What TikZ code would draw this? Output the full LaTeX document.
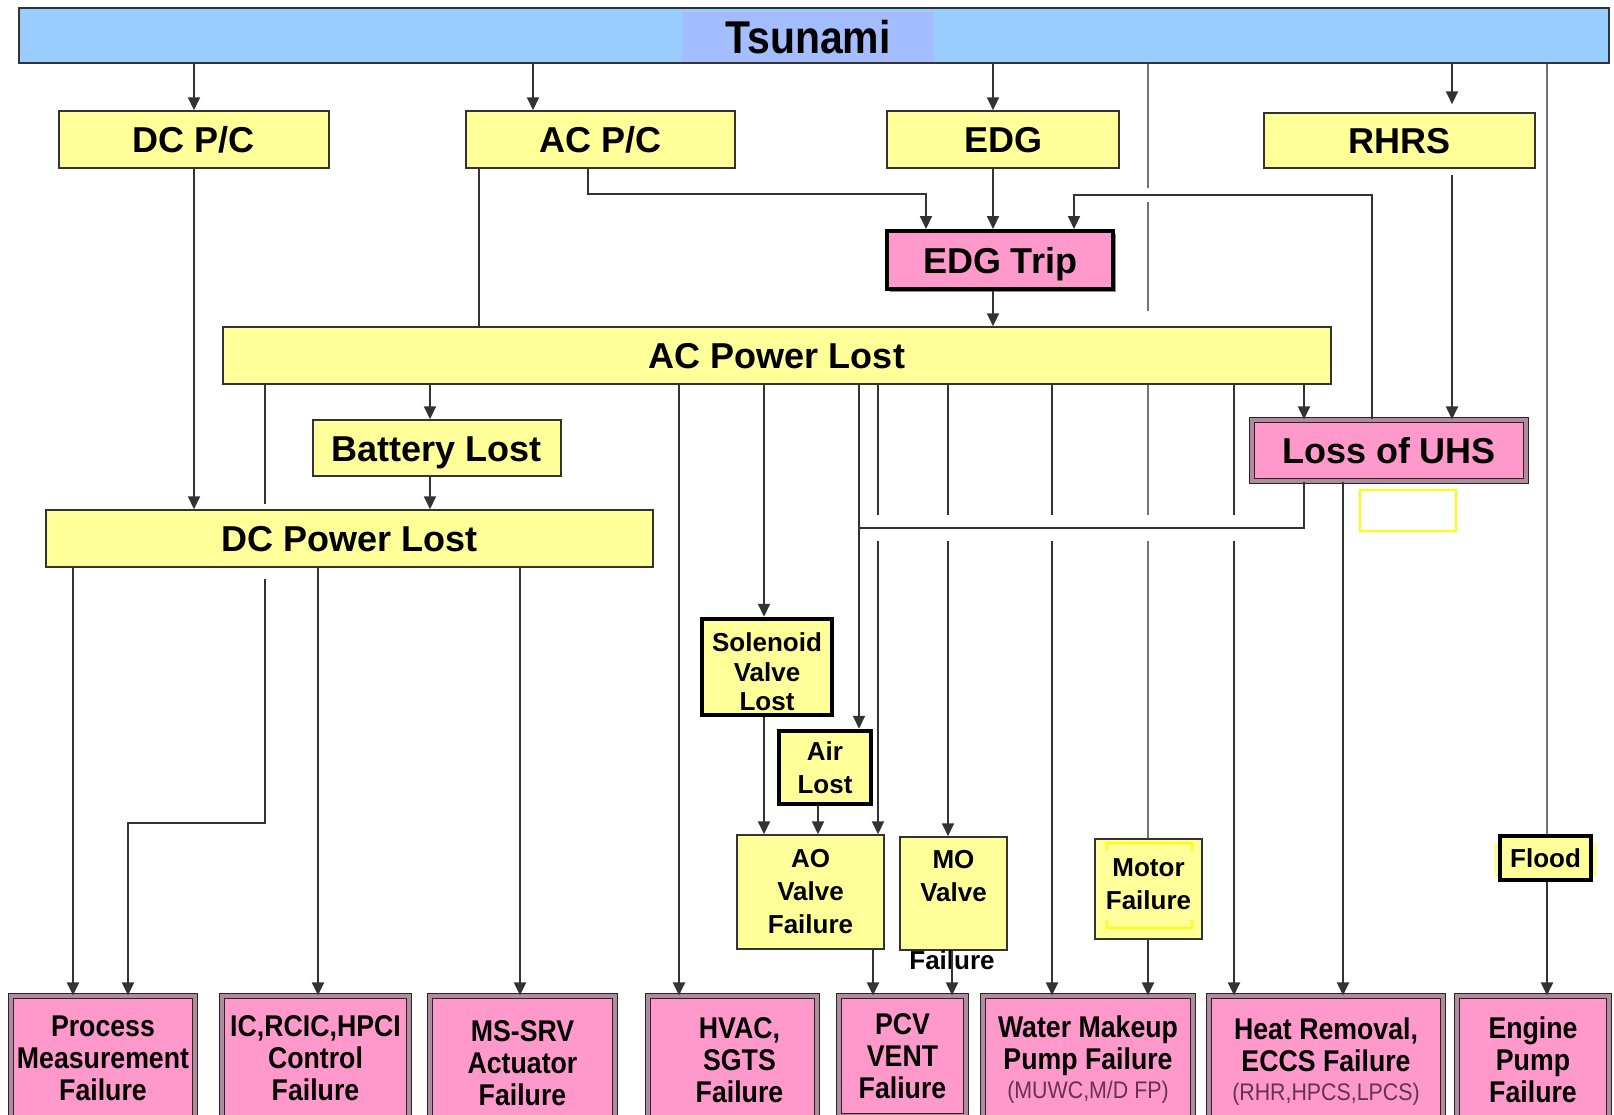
\documentclass[tikz,border=0pt]{standalone}
\usepackage{fontspec}
\setmainfont{Liberation Sans}
\newfontfamily\condfont[FakeStretch=0.89]{Liberation Sans}
\usetikzlibrary{arrows.meta,shadows}
\definecolor{pinkf}{HTML}{FF99CC}
\definecolor{yelf}{HTML}{FFFF99}
\definecolor{ybright}{HTML}{FFFF00}
\definecolor{bluef}{HTML}{99CCFF}
\definecolor{bluehl}{HTML}{A3BDFF}
\definecolor{subc}{HTML}{66334D}
\definecolor{brd}{HTML}{333333}
\begin{document}
\begin{tikzpicture}[x=1pt,y=-1pt,
 every node/.style={inner sep=0pt, align=center},
 ybox/.style={draw=brd, line width=1.5pt, fill=yelf},
 bigtxt/.style={font=\bfseries\fontsize{36}{40}\selectfont, text height=26pt, text depth=0pt},
 midtxt/.style={font=\bfseries\fontsize{26}{33}\selectfont},
 soltxt/.style={font=\bfseries\fontsize{26}{29.5}\selectfont},
 thickbox/.style={draw=black, line width=4.5pt, fill=yelf},
 pbox/.style={draw=black!85, line width=1.2pt, double=gray!60!pinkf, double distance=4pt, fill=pinkf},
 btxt/.style={font=\condfont\bfseries\fontsize{30}{32}\selectfont},
 arr/.style={draw=black!80, line width=2pt, -{Triangle[length=13pt,width=12pt]}},
 ln/.style={draw=black!80, line width=2pt},
 gln/.style={draw=black!55, line width=2.4pt},
]
\useasboundingbox (0,0) rectangle (1614,1114);
\clip (0,0) rectangle (1614,1114);
\fill[white] (0,0) rectangle (1614,1114);

% ---------- nodes ----------
\node[fill=bluef, draw=brd, line width=1.5pt, minimum width=1590pt, minimum height=55pt] (tsunami) at (814,35.5) {};
\node[fill=bluehl, minimum width=252pt, minimum height=50pt, font=\condfont\bfseries\fontsize{46}{50}\selectfont, text height=33pt, text depth=0pt] (tsulabel) at (808,37) {Tsunami};

\node[ybox,bigtxt,minimum width=270pt,minimum height=57pt] (dcpc) at (194,139.5) {DC P/C};
\node[ybox,bigtxt,minimum width=269pt,minimum height=57pt] (acpc) at (600.5,139.5) {AC P/C};
\node[ybox,bigtxt,minimum width=232pt,minimum height=57pt] (edg) at (1003,139.5) {EDG};
\node[ybox,bigtxt,minimum width=271pt,minimum height=55pt] (rhrs) at (1399.5,140.5) {RHRS};

\node[bigtxt, draw=black, line width=4pt, fill=pinkf,
      drop shadow={shadow xshift=3pt,shadow yshift=-3pt,fill=black!45,opacity=1},
      minimum width=226pt, minimum height=58pt] (edgtrip) at (1000,260) {EDG Trip};

\node[ybox,bigtxt,minimum width=1108pt,minimum height=57pt] (acpl) at (777,355.5) {AC Power Lost};
\node[ybox,bigtxt,minimum width=248pt,minimum height=56pt] (batt) at (437,448) {Battery Lost};
\node[ybox,bigtxt,minimum width=607pt,minimum height=57pt] (dcpl) at (349.5,538.5) {DC Power Lost};
\node[pbox,bigtxt,minimum width=274pt,minimum height=61pt] (uhs) at (1389,450.5) {Loss of UHS};
\draw[ybright, line width=2pt] (1360,490) rectangle (1456,531);

\node[thickbox, soltxt, minimum width=130pt, minimum height=96pt] (sol) at (767,667) {};
\node[soltxt] (soltext) at (767,672) {Solenoid\\Valve\\Lost};
\node[thickbox, midtxt, minimum width=92pt, minimum height=73pt] (air) at (825,767.5) {Air\\Lost};
\node[ybox, midtxt, minimum width=147pt, minimum height=114pt] (ao) at (810.5,892) {AO\\Valve\\Failure};
\node[ybox, minimum width=107pt, minimum height=113pt] (mo) at (953.5,893.5) {};
\node[midtxt] (motext) at (953.5,876) {MO\\Valve};
\node[midtxt] (mofail) at (952,960) {Failure};
\node[ybox, minimum width=107pt, minimum height=100pt] (motor) at (1148.5,889) {};
\node[midtxt] (motortext) at (1148.5,884) {Motor\\Failure};
\draw[ybright, line width=2pt] (1107,850) -- (1107,843) -- (1192,843) -- (1192,850)
                               (1107,920) -- (1107,928) -- (1192,928) -- (1192,920);
\fill[yelf] (1494,843) rectangle (1597,876);
\node[thickbox, midtxt, minimum width=91pt, minimum height=44pt] (flood) at (1545.5,858) {Flood};

\node[pbox,btxt,minimum width=184pt,minimum height=124pt] (pm) at (103,1058) {Process\\Measurement\\Failure};
\node[pbox,btxt,minimum width=187pt,minimum height=124pt] (ic) at (315.5,1058) {IC,RCIC,HPCI\\Control\\Failure};
\node[pbox,btxt,minimum width=185pt,minimum height=134pt] (ms) at (522.5,1063) {MS-SRV\\Actuator\\Failure};
\node[pbox,btxt,minimum width=169pt,minimum height=128pt] (hvac) at (732.5,1060) {\hspace*{14pt}HVAC,\\\hspace*{14pt}SGTS\\\hspace*{14pt}Failure};
\node[pbox,btxt,minimum width=127pt,minimum height=120pt] (pcv) at (902.5,1056) {PCV\\VENT\\Faliure};
\node[pbox,btxt,minimum width=210pt,minimum height=128pt] (wm) at (1088,1060) {Water Makeup\\Pump Failure\\[-3pt]{\condfont\mdseries\fontsize{24}{26}\selectfont\color{subc}(MUWC,M/D FP)}};
\node[pbox,btxt,minimum width=234pt,minimum height=132pt] (hr) at (1326,1062) {Heat Removal,\\ECCS Failure\\[-3pt]{\condfont\mdseries\fontsize{24}{26}\selectfont\color{subc}(RHR,HPCS,LPCS)}};
\node[pbox,btxt,minimum width=152pt,minimum height=128pt] (ep) at (1533,1060) {Engine\\Pump\\Failure};

% ---------- lines that get hopped ----------
\draw[gln, shorten >=15pt] (tsunami.south -| 1148,0) -- (acpl.north -| 1148,0);
\draw[gln] (acpl.south -| 1148,0) -- (motor.north -| 1148,0);
\draw[arr] (acpl.south -| 878,0) -- (ao.north -| 878,0);
\draw[arr] (acpl.south -| 948,0) -- (mo.north -| 948,0);
\draw[arr] (acpl.south -| 1052,0) -- (wm.north -| 1052,0);
\draw[arr] (acpl.south -| 1234,0) -- (hr.north -| 1234,0);
% gaps (line hops)
\draw[white, line width=14pt] (1090,195) -- (1360,195);
\draw[white, line width=26pt] (868,528) -- (1295,528);

% ---------- crossing lines ----------
\coordinate (jn) at (859,528);
\draw[ln] (uhs.south -| 1304,0) |- (jn);
\draw[arr] (uhs.north -| 1372,0) |- (1074,195) -- (edgtrip.north -| 1074,0);
\draw[arr] (acpl.south -| 859,0) -- (air.north -| 859,0);

% ---------- other connectors ----------
\draw[arr] (tsunami.south -| dcpc.north) -- (dcpc.north);
\draw[arr] (tsunami.south -| 533,0) -- (acpc.north -| 533,0);
\draw[arr] (tsunami.south -| 993,0) -- (edg.north -| 993,0);
\draw[arr, shorten >=8pt] (tsunami.south -| 1452,0) -- (rhrs.north -| 1452,0);
\draw[gln] (tsunami.south -| 1547,0) -- (flood.north -| 1547,0);
\draw[arr] (flood.south -| 1547,0) -- (ep.north -| 1547,0);

\draw[arr] (dcpc.south) -- (dcpl.north -| dcpc.south);
\draw[ln] (acpc.south -| 479,0) -- (acpl.north -| 479,0);
\draw[arr] (acpc.south -| 588,0) |- (926,194) -- (edgtrip.north -| 926,0);
\draw[arr] (edg.south -| 993,0) -- (edgtrip.north -| 993,0);
\draw[arr] (edgtrip.south -| 993,0) -- (acpl.north -| 993,0);
\draw[arr, shorten <=6pt] (rhrs.south -| 1452,0) -- (uhs.north -| 1452,0);

\draw[arr] (acpl.south -| 430,0) -- (batt.north -| 430,0);
\draw[arr] (batt.south -| 430,0) -- (dcpl.north -| 430,0);
\draw[ln, shorten >=5pt] (acpl.south -| 265,0) -- (dcpl.north -| 265,0);
\draw[arr, shorten <=11pt] (dcpl.south -| 265,0) -- (265,823) -| (pm.north -| 128,0);
\draw[arr] (dcpl.south -| 73,0) -- (pm.north -| 73,0);
\draw[arr] (dcpl.south -| 318,0) -- (ic.north -| 318,0);
\draw[arr] (dcpl.south -| 520,0) -- (ms.north -| 520,0);
\draw[arr] (acpl.south -| 679,0) -- (hvac.north -| 679,0);
\draw[arr] (acpl.south -| 764,0) -- (sol.north -| 764,0);
\draw[arr] (acpl.south -| 1304,0) -- (uhs.north -| 1304,0);
\draw[arr] (uhs.south -| 1343,0) -- (hr.north -| 1343,0);
\draw[arr] (sol.south -| 764,0) -- (ao.north -| 764,0);
\draw[arr] (air.south -| 818,0) -- (ao.north -| 818,0);
\draw[arr] (ao.south -| 873,0) -- (pcv.north -| 873,0);
\draw[arr] (mo.south -| 952,0) -- (pcv.north -| 952,0);
\draw[arr] (motor.south -| 1148,0) -- (wm.north -| 1148,0);
\end{tikzpicture}
\end{document}
